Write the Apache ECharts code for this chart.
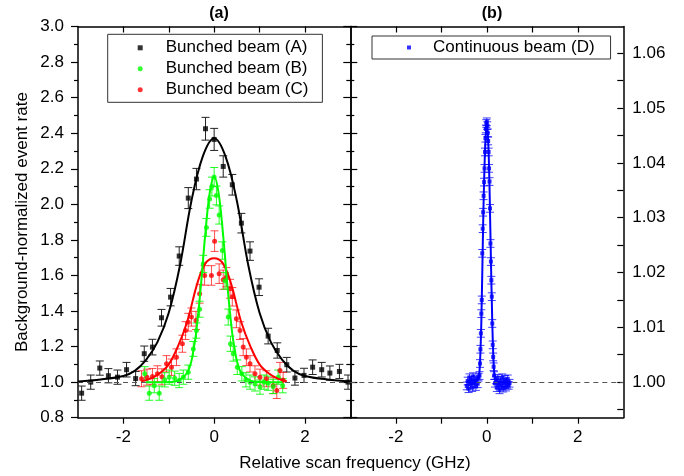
<!DOCTYPE html>
<html><head><meta charset="utf-8">
<script src="https://cdn.jsdelivr.net/npm/echarts@6/dist/echarts.min.js"></script>
<style>html,body{margin:0;padding:0;background:#fff}#c{width:684px;height:476px}</style>
</head><body><div id="c"></div>
<script>
// ---------- data ----------
const xTicks = [-2, -1, 0, 1, 2];
const xLabels = [-2, 0, 2];
const rightTicks = [0.995, 1.000, 1.005, 1.010, 1.015, 1.020, 1.025, 1.030, 1.035, 1.040, 1.045, 1.050, 1.055, 1.060];
const rightLabels = [1.00, 1.01, 1.02, 1.03, 1.04, 1.05, 1.06];
const refLevel = 1.0;

// Bunched beam (A)
const xA = [-2.92,-2.72,-2.52,-2.33,-2.13,-1.93,-1.73,-1.54,-1.36,-1.16,-0.96,-0.77,-0.57,-0.39,-0.19,0.00,0.20,0.40,0.60,0.79,0.99,1.19,1.39,1.60,1.78,1.98,2.17,2.37,2.55,2.76,2.95];
const yA = [0.938,1.000,1.079,1.036,1.028,1.070,1.020,1.160,1.197,1.362,1.478,1.709,2.035,2.142,2.425,2.365,2.213,2.110,1.894,1.737,1.534,1.259,1.178,1.098,1.023,1.038,1.084,1.070,1.051,1.060,1.000];
const eA = [0.040,0.040,0.040,0.040,0.040,0.041,0.040,0.043,0.044,0.047,0.049,0.052,0.059,0.060,0.064,0.062,0.060,0.058,0.055,0.052,0.047,0.044,0.043,0.041,0.040,0.040,0.041,0.041,0.040,0.040,0.040];
// Bunched beam (B)
const xB = [-1.53,-1.43,-1.32,-1.21,-1.09,-0.99,-0.87,-0.77,-0.68,-0.57,-0.46,-0.39,-0.32,-0.24,-0.17,-0.10,-0.05,0.00,0.05,0.11,0.18,0.24,0.31,0.36,0.42,0.51,0.61,0.70,0.79,0.90,1.01,1.10,1.19,1.30,1.41,1.51];
const yB = [1.047,0.938,0.980,0.938,1.013,1.028,1.022,1.009,1.028,1.056,1.187,1.290,1.410,1.665,1.870,2.030,2.100,2.153,2.050,1.940,1.740,1.570,1.366,1.216,1.160,1.084,1.047,1.013,1.000,0.990,0.972,1.000,0.994,0.976,1.028,0.980];
const eB = [0.040,0.040,0.040,0.040,0.040,0.040,0.040,0.040,0.040,0.040,0.042,0.043,0.045,0.048,0.050,0.052,0.053,0.054,0.053,0.051,0.049,0.047,0.045,0.043,0.042,0.041,0.040,0.040,0.040,0.040,0.040,0.040,0.040,0.040,0.040,0.040];
// Bunched beam (C)
const xC = [-1.60,-1.48,-1.36,-1.25,-1.15,-1.05,-0.94,-0.83,-0.70,-0.63,-0.57,-0.50,-0.40,-0.32,-0.21,-0.06,0.01,0.11,0.20,0.27,0.35,0.40,0.49,0.57,0.64,0.71,0.79,0.90,1.01,1.15,1.30,1.38,1.45,1.52];
const yC = [1.019,1.028,1.032,1.047,1.030,1.103,1.084,1.140,1.216,1.290,1.337,1.366,1.347,1.497,1.600,1.600,1.793,1.610,1.576,1.590,1.525,1.480,1.356,1.290,1.197,1.140,1.103,1.047,1.028,1.019,0.980,0.953,1.066,1.010];
const eC = [0.045,0.045,0.045,0.045,0.045,0.046,0.046,0.047,0.048,0.050,0.050,0.051,0.051,0.053,0.055,0.055,0.058,0.055,0.054,0.054,0.053,0.052,0.050,0.050,0.048,0.047,0.046,0.045,0.045,0.045,0.045,0.045,0.045,0.045];
// Continuous beam (D)
const xD = [-0.44,-0.42,-0.40,-0.38,-0.36,-0.34,-0.32,-0.30,-0.28,-0.26,-0.24,-0.22,-0.20,-0.18,-0.16,-0.15,-0.14,-0.13,-0.12,-0.11,-0.10,-0.09,-0.08,-0.07,-0.06,-0.05,-0.04,-0.03,-0.02,-0.01,0.00,0.01,0.02,0.03,0.04,0.05,0.06,0.07,0.08,0.09,0.10,0.11,0.12,0.13,0.14,0.15,0.16,0.18,0.20,0.22,0.24,0.26,0.28,0.30,0.32,0.34,0.36,0.38,0.40,0.42,0.44,0.46,0.48,0.50];
const yD = [0.9993,1.0002,0.9988,1.0008,0.9996,1.0004,0.9990,1.0010,0.9998,1.0003,0.9992,1.0006,0.9997,1.0009,1.0012,1.0034,1.0060,1.0089,1.0125,1.0150,1.0235,1.0280,1.0310,1.0340,1.0365,1.0390,1.0420,1.0445,1.0462,1.0472,1.0475,1.0468,1.0455,1.0440,1.0420,1.0390,1.0366,1.0317,1.0253,1.0220,1.0186,1.0156,1.0107,1.0068,1.0046,1.0028,1.0012,0.9998,1.0004,0.9990,1.0007,0.9995,0.9986,1.0003,0.9993,1.0008,0.9989,0.9999,1.0005,0.9991,0.9996,1.0006,0.9994,0.9998];
const eD = 0.0007;

// fitted curves
const fitAx = [-3.0,-2.5,-2.0,-1.75,-1.5,-1.25,-1.0,-0.75,-0.5,-0.25,0.0,0.25,0.5,0.75,1.0,1.25,1.5,1.75,2.0,2.5,3.0];
const fitAy = [1.004,1.015,1.035,1.063,1.125,1.225,1.390,1.660,2.020,2.270,2.372,2.270,2.020,1.660,1.390,1.225,1.125,1.063,1.035,1.015,1.004];
const fitBx = [-1.5,-1.2,-1.0,-0.8,-0.6,-0.5,-0.45,-0.4,-0.3,-0.2,-0.1,0.0,0.1,0.2,0.3,0.4,0.45,0.5,0.6,0.8,1.0,1.2,1.5];
const fitBy = [1.000,1.000,1.001,1.008,1.050,1.120,1.190,1.270,1.520,1.820,2.060,2.155,2.060,1.820,1.520,1.270,1.190,1.120,1.050,1.008,1.001,1.000,1.000];
const fitCx = [-1.6,-1.4,-1.2,-1.0,-0.8,-0.6,-0.4,-0.3,-0.2,-0.1,0.0,0.1,0.2,0.3,0.4,0.6,0.8,1.0,1.2,1.4,1.6];
const fitCy = [1.005,1.020,1.050,1.100,1.200,1.335,1.530,1.610,1.665,1.690,1.697,1.690,1.665,1.610,1.530,1.335,1.200,1.100,1.050,1.020,1.005];
const fitDx = [-0.45,-0.30,-0.20,-0.16,-0.12,-0.08,-0.04,0.00,0.04,0.08,0.12,0.16,0.20,0.30,0.50];
const fitDy = [1.0000,1.0000,1.0005,1.0020,1.0110,1.0290,1.0420,1.0475,1.0420,1.0270,1.0110,1.0020,1.0005,1.0000,1.0000];

// ---------- chart ----------
const FONT = "'Liberation Sans', Arial, sans-serif";
const pts = (xs, ys) => xs.map((x, i) => [x, ys[i]]);
const errPts = (xs, ys, es) => xs.map((x, i) => [x, ys[i], Array.isArray(es) ? es[i] : es]);

function errSeries(data, color, xi, yi, cap, z) {
  return {
    type: 'custom', xAxisIndex: xi, yAxisIndex: yi, data: data, silent: true, z: z,
    clip: true,
    encode: { x: 0, y: 1 },
    renderItem: function (p, api) {
      const x = api.value(0), y = api.value(1), e = api.value(2);
      const t = api.coord([x, y + e]), b = api.coord([x, y - e]);
      const st = { stroke: color, lineWidth: 1 };
      return { type: 'group', children: [
        { type: 'line', shape: { x1: t[0], y1: t[1], x2: b[0], y2: b[1] }, style: st },
        { type: 'line', shape: { x1: t[0] - cap, y1: t[1], x2: t[0] + cap, y2: t[1] }, style: st },
        { type: 'line', shape: { x1: b[0] - cap, y1: b[1], x2: b[0] + cap, y2: b[1] }, style: st }
      ]};
    }
  };
}
function scat(name, data, color, symbol, size, xi, yi, z) {
  return { type: 'scatter', name: name, xAxisIndex: xi, yAxisIndex: yi, data: data,
    symbol: symbol, symbolSize: size, itemStyle: { color: color }, z: z, silent: true };
}
function fit(data, color, xi, yi, z) {
  return { type: 'line', xAxisIndex: xi, yAxisIndex: yi, data: data, smooth: 0.35, showSymbol: false,
    lineStyle: { color: color, width: 2 }, z: z, silent: true };
}

const axisLine = { show: true, onZero: false, lineStyle: { color: '#000', width: 1.5 } };
function xAx(grid, pos, labels) {
  return { type: 'value', gridIndex: grid, position: pos, min: -3, max: 3,
    axisLine: axisLine, splitLine: { show: false },
    axisTick: { show: true, inside: pos === 'top', length: 6, customValues: xTicks, lineStyle: { color: '#000', width: 1.2 } },
    axisLabel: { show: labels, customValues: xLabels, fontFamily: FONT, fontSize: 17, color: '#000', margin: 11 } };
}
function yLeftScale(grid, pos, labels, inside) {
  return { type: 'value', gridIndex: grid, position: pos, min: 0.8, max: 3.0, interval: 0.2,
    axisLine: axisLine, splitLine: { show: false },
    axisTick: { show: true, inside: inside, length: 7, lineStyle: { color: '#000', width: 1.2 } },
    minorTick: { show: true, splitNumber: 2, length: 4, lineStyle: { color: '#000', width: 1.2 } },
    axisLabel: { show: labels, fontFamily: FONT, fontSize: 17, color: '#000', margin: 14,
      formatter: v => v.toFixed(1), showMinLabel: true, showMaxLabel: true } };
}

const yAxes = [
  Object.assign(yLeftScale(0, 'left', true, false), {
    name: 'Background-normalized event rate', nameLocation: 'middle', nameGap: 47,
    nameTextStyle: { fontFamily: FONT, fontSize: 17, color: '#000' } }),
  yLeftScale(0, 'right', false, true),
  yLeftScale(1, 'left', false, true),
  { type: 'value', gridIndex: 1, position: 'right', min: 0.99351, max: 1.06489,
    axisLine: axisLine, splitLine: { show: false },
    axisTick: { show: true, inside: true, length: 6, customValues: rightTicks, lineStyle: { color: '#000', width: 1.2 } },
    axisLabel: { show: true, customValues: rightLabels, fontFamily: FONT, fontSize: 17, color: '#000', margin: 9,
      formatter: v => v.toFixed(2) } }
];

const refLine = (xi, yi) => ({
  type: 'line', xAxisIndex: xi, yAxisIndex: yi, data: [], silent: true, z: 1,
  markLine: { silent: true, symbol: 'none', label: { show: false },
    lineStyle: { color: '#555', type: [5, 4], width: 1.2 }, data: [{ yAxis: refLevel }] }
});

const option = {
  animation: false,
  backgroundColor: '#fff',
  textStyle: { fontFamily: FONT },
  title: [
    { text: '(a)', left: 214, top: 1, textAlign: 'center', textStyle: { fontFamily: FONT, fontSize: 16, fontWeight: 'bold', color: '#000' } },
    { text: '(b)', left: 487, top: 1, textAlign: 'center', textStyle: { fontFamily: FONT, fontSize: 16, fontWeight: 'bold', color: '#000' } },
    { text: 'Relative scan frequency (GHz)', left: 350, top: 450, textAlign: 'center', textStyle: { fontFamily: FONT, fontSize: 17, fontWeight: 'normal', color: '#000' } }
  ],
  legend: [
    { orient: 'vertical', left: 107.7, top: 34.3, borderColor: '#333', borderWidth: 1, padding: [3, 14, 2, 30],
      itemWidth: 5, itemHeight: 5, itemGap: 0, selectedMode: false,
      textStyle: { fontFamily: FONT, fontSize: 17, color: '#000', lineHeight: 21, padding: [0, 0, 0, 18] },
      data: [ { name: 'Bunched beam (A)', icon: 'rect' }, { name: 'Bunched beam (B)', icon: 'circle' }, { name: 'Bunched beam (C)', icon: 'circle' } ] },
    { orient: 'vertical', left: 372, top: 36, borderColor: '#333', borderWidth: 1, padding: [1, 16, 1, 35],
      itemWidth: 4, itemHeight: 4, itemGap: 0, selectedMode: false,
      textStyle: { fontFamily: FONT, fontSize: 17, color: '#000', lineHeight: 21, padding: [0, 0, 0, 17] },
      data: [ { name: 'Continuous beam (D)', icon: 'rect' } ] }
  ],
  grid: [
    { left: 78, top: 26.5, width: 272.3, height: 391.2 },
    { left: 350.3, top: 26.5, width: 273, height: 391.2 }
  ],
  xAxis: [ xAx(0, 'bottom', true), xAx(0, 'top', false), xAx(1, 'bottom', true), xAx(1, 'top', false) ],
  yAxis: yAxes,
  series: [
    refLine(0, 0),
    refLine(2, 3),
    errSeries(errPts(xA, yA, eA), '#222', 0, 0, 4, 3),
    scat('Bunched beam (A)', pts(xA, yA), '#000', 'rect', 5, 0, 0, 4),
    errSeries(errPts(xC, yC, eC), 'rgba(255,0,0,0.7)', 0, 0, 4, 3),
    scat('Bunched beam (C)', pts(xC, yC), '#ff0000', 'circle', 5, 0, 0, 4),
    errSeries(errPts(xB, yB, eB), 'rgba(0,255,0,0.85)', 0, 0, 4, 3),
    scat('Bunched beam (B)', pts(xB, yB), '#00ff00', 'circle', 5, 0, 0, 4),
    fit(pts(fitCx, fitCy), '#ff0000', 0, 0, 5),
    fit(pts(fitBx, fitBy), '#00ff00', 0, 0, 5),
    fit(pts(fitAx, fitAy), '#000', 0, 0, 6),
    errSeries(errPts(xD, yD, eD), 'rgba(0,0,255,0.75)', 2, 3, 4, 3),
    scat('Continuous beam (D)', pts(xD, yD), '#0000ff', 'rect', 4, 2, 3, 4),
    fit(pts(fitDx, fitDy), '#0000ff', 2, 3, 5)
  ]
};
echarts.init(document.getElementById('c'), null, { renderer: 'canvas' }).setOption(option);
</script></body></html>
